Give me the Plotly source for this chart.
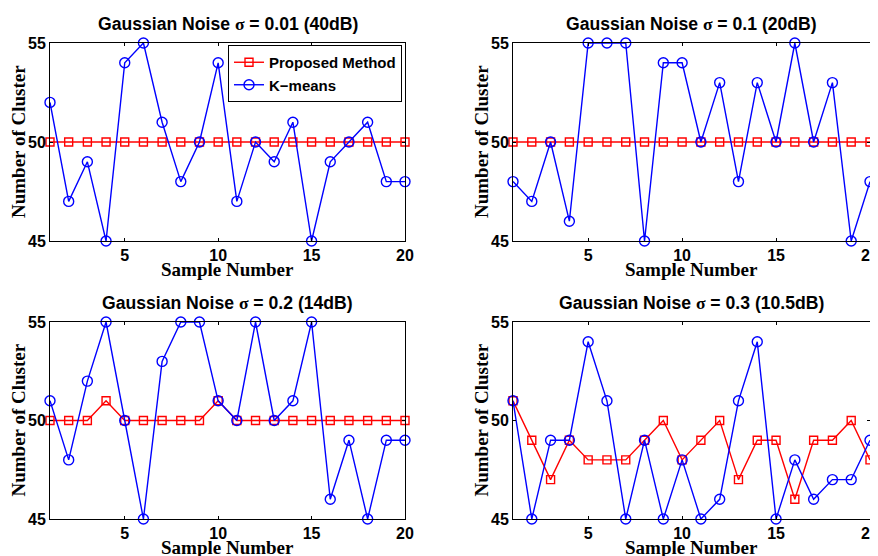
import plotly.graph_objects as go

samples = list(range(1, 21))

titles = [
    "Gaussian Noise <span style='font-family:Liberation Serif'>σ</span> = 0.01 (40dB)",
    "Gaussian Noise <span style='font-family:Liberation Serif'>σ</span> = 0.1 (20dB)",
    "Gaussian Noise <span style='font-family:Liberation Serif'>σ</span> = 0.2 (14dB)",
    "Gaussian Noise <span style='font-family:Liberation Serif'>σ</span> = 0.3 (10.5dB)",
]
x_title = "Sample Number"
y_title = "Number of Cluster"

proposed_001 = [50] * 20
kmeans_001 = [52, 47, 49, 45, 54, 55, 51, 48, 50, 54, 47, 50, 49, 51, 45, 49, 50, 51, 48, 48]

proposed_01 = [50] * 20
kmeans_01 = [48, 47, 50, 46, 55, 55, 55, 45, 54, 54, 50, 53, 48, 53, 50, 55, 50, 53, 45, 48]

proposed_02 = [50, 50, 50, 51, 50, 50, 50, 50, 50, 51, 50, 50, 50, 50, 50, 50, 50, 50, 50, 50]
kmeans_02 = [51, 48, 52, 55, 50, 45, 53, 55, 55, 51, 50, 55, 50, 51, 55, 46, 49, 45, 49, 49]

proposed_03 = [51, 49, 47, 49, 48, 48, 48, 49, 50, 48, 49, 50, 47, 49, 49, 46, 49, 49, 50, 48]
kmeans_03 = [51, 45, 49, 49, 54, 51, 45, 49, 45, 48, 45, 46, 51, 54, 45, 48, 46, 47, 47, 49]

x_ticks = [5, 10, 15, 20]
y_ticks = [45, 50, 55]

panels = [
    (proposed_001, kmeans_001),
    (proposed_01, kmeans_01),
    (proposed_02, kmeans_02),
    (proposed_03, kmeans_03),
]

# page body has an 8px margin; work in screen pixels and convert
OFF = 8
W, H = 878 - OFF, 556 - OFF


def fx(px):
    return (px - OFF) / W


def fy(py):
    return 1 - (py - OFF) / H


col_px = [(50, 405), (513, 870)]
row_px = [(43, 241), (322, 519)]

fig = go.Figure()

sans = "Liberation Sans, Arial, sans-serif"
serif = "Liberation Serif, Times New Roman, serif"

layout = dict(
    width=W, height=H,
    margin=dict(l=0, r=0, t=0, b=0, autoexpand=False),
    paper_bgcolor="white", plot_bgcolor="white",
    showlegend=True,
    legend=dict(
        x=fx(402), xanchor="right", y=fy(45), yanchor="top",
        bordercolor="black", borderwidth=1, bgcolor="white",
        font=dict(family=sans, size=15, color="black", weight="bold"),
        tracegroupgap=0, itemwidth=30,
    ),
    annotations=[],
)

for i, (prop, km) in enumerate(panels):
    r, c = divmod(i, 2)
    ax = "" if i == 0 else str(i + 1)
    xa, ya = "x" + ax, "y" + ax
    fig.add_trace(go.Scatter(
        x=samples, y=prop, mode="lines+markers", name="Proposed Method",
        line=dict(color="#ff0000", width=1.4),
        marker=dict(symbol="square-open", size=8, color="#ff0000", line=dict(width=1.4)),
        xaxis=xa, yaxis=ya, showlegend=(i == 0), cliponaxis=False,
    ))
    fig.add_trace(go.Scatter(
        x=samples, y=km, mode="lines+markers", name="K−means",
        line=dict(color="#0000ff", width=1.4),
        marker=dict(symbol="circle-open", size=10, color="#0000ff", line=dict(width=1.4)),
        xaxis=xa, yaxis=ya, showlegend=(i == 0), cliponaxis=False,
    ))
    x0, x1 = col_px[c]
    y0, y1 = row_px[r]
    common = dict(
        showline=True, linecolor="black", linewidth=1, mirror="ticks",
        ticks="inside", ticklen=3, tickcolor="black", showgrid=False, zeroline=False,
        automargin=False, ticklabelstandoff=0, ticklabeloverflow="allow",
        tickfont=dict(family=sans, size=16, color="black", weight="bold"),
    )
    layout["xaxis" + ax] = dict(
        common, domain=[fx(x0), fx(x1)], range=[1, 20], tickvals=x_ticks, anchor=ya,
    )
    layout["yaxis" + ax] = dict(
        common, domain=[fy(y1), fy(y0)], range=[45, 55], tickvals=y_ticks, anchor=xa,
    )
    layout["annotations"] += [
        dict(text=titles[i], x=fx((x0 + x1) / 2), y=fy(y0 - 19),
             xref="paper", yref="paper", xanchor="center", yanchor="middle",
             showarrow=False,
             font=dict(family=sans, size=17.6, color="black", weight="bold")),
        dict(text=x_title, x=fx((x0 + x1) / 2), y=fy(y1 + 28),
             xref="paper", yref="paper", xanchor="center", yanchor="middle",
             showarrow=False,
             font=dict(family=serif, size=19, color="black", weight="bold")),
        dict(text=y_title, x=fx(x0 - 32), y=fy((y0 + y1) / 2), textangle=-90,
             xref="paper", yref="paper", xanchor="center", yanchor="middle",
             showarrow=False,
             font=dict(family=serif, size=19, color="black", weight="bold")),
    ]

fig.update_layout(**layout)
fig.write_html("out.html")
